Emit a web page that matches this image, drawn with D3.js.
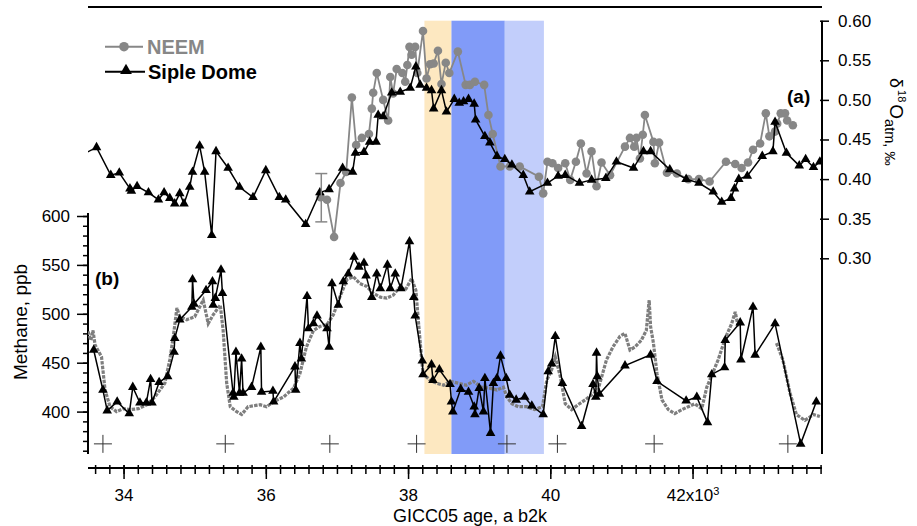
<!DOCTYPE html>
<html>
<head>
<meta charset="utf-8">
<script src="https://cdn.jsdelivr.net/npm/d3@7"></script>
<style>
  body { margin: 0; background: #fff; }
  svg { display: block; font-family: Arial, "Liberation Sans", sans-serif; }
</style>
</head>
<body>
<svg id="chart" width="917" height="526"></svg>
<script>
// ages in ka b2k, d18O in permil, CH4 in ppb
const bandEdges = [38.23, 38.61, 39.36, 39.91];
const tiePointAges = [33.71, 35.43, 36.90, 38.12, 39.39, 40.10, 41.46, 43.34];
const tiePointLevel = 367;
const neemErrorBar = { age: 36.78, lo: 0.346, hi: 0.407 };

const xMajorTicks = [34, 36, 38, 40, 42];
const ch4MajorTicks = [400, 450, 500, 550, 600];
const d18OTicks = [0.30, 0.35, 0.40, 0.45, 0.50, 0.55, 0.60];

const neemD18O = [
  [36.77,0.377],[36.86,0.374],[36.96,0.327],[37.05,0.395],[37.13,0.409],[37.21,0.503],
  [37.27,0.443],[37.35,0.452],[37.45,0.457],[37.49,0.489],[37.51,0.509],[37.56,0.534],
  [37.65,0.500],[37.72,0.474],[37.75,0.529],[37.79,0.508],[37.84,0.539],[37.92,0.534],
  [37.96,0.523],[37.99,0.544],[38.02,0.567],[38.05,0.557],[38.10,0.567],[38.13,0.534],
  [38.21,0.587],[38.26,0.527],[38.31,0.545],[38.36,0.546],[38.42,0.562],[38.47,0.520],
  [38.53,0.547],[38.58,0.534],[38.70,0.561],[38.81,0.519],[38.87,0.519],[38.94,0.523],
  [39.07,0.519],[39.13,0.481],[39.19,0.457],[39.30,0.416],[39.43,0.416],[39.57,0.416],
  [39.84,0.403],[39.90,0.382],[39.96,0.422],[40.03,0.420],[40.11,0.414],[40.21,0.420],
  [40.28,0.399],[40.36,0.422],[40.43,0.445],[40.51,0.407],[40.58,0.435],[40.65,0.391],
  [40.72,0.421],[40.84,0.405],[41.05,0.441],[41.12,0.452],[41.18,0.441],[41.21,0.452],
  [41.26,0.426],[41.30,0.456],[41.33,0.481],[41.45,0.447],[41.47,0.420],[41.53,0.446],
  [41.64,0.408],[41.78,0.407],[41.94,0.400],[42.09,0.400],[42.24,0.397],[42.47,0.422],
  [42.60,0.419],[42.69,0.414],[42.78,0.421],[42.85,0.437],[42.95,0.445],[43.03,0.483],
  [43.08,0.454],[43.16,0.460],[43.19,0.470],[43.24,0.483],[43.30,0.483],[43.33,0.474],
  [43.41,0.468]
];

const sipleD18O = [
  [33.40,0.430],[33.62,0.440],[33.82,0.405],[33.94,0.408],[34.09,0.388],[34.11,0.385],
  [34.19,0.391],[34.35,0.383],[34.49,0.374],[34.57,0.383],[34.65,0.376],[34.72,0.369],
  [34.79,0.382],[34.85,0.369],[34.93,0.390],[34.97,0.409],[35.07,0.442],[35.14,0.409],
  [35.24,0.329],[35.30,0.435],[35.47,0.414],[35.63,0.390],[35.82,0.377],[36.00,0.411],
  [36.19,0.377],[36.28,0.374],[36.56,0.343],[36.76,0.383],[36.89,0.387],[37.08,0.414],
  [37.22,0.409],[37.26,0.433],[37.38,0.434],[37.46,0.447],[37.55,0.447],[37.58,0.481],
  [37.65,0.479],[37.77,0.509],[37.89,0.510],[38.03,0.515],[38.11,0.542],[38.17,0.519],
  [38.26,0.515],[38.33,0.512],[38.36,0.489],[38.47,0.512],[38.54,0.485],[38.65,0.501],
  [38.72,0.496],[38.78,0.498],[38.85,0.501],[38.93,0.495],[38.95,0.475],[39.08,0.454],
  [39.15,0.446],[39.25,0.429],[39.36,0.425],[39.46,0.418],[39.62,0.405],[39.71,0.384],
  [39.96,0.395],[40.11,0.404],[40.21,0.405],[40.41,0.395],[40.58,0.399],[40.78,0.401],
  [40.93,0.422],[41.17,0.414],[41.31,0.435],[41.41,0.435],[41.68,0.412],[41.91,0.400],
  [42.09,0.395],[42.29,0.384],[42.41,0.371],[42.54,0.376],[42.59,0.388],[42.65,0.400],
  [42.77,0.404],[42.98,0.429],[43.13,0.435],[43.16,0.472],[43.32,0.433],[43.50,0.417],
  [43.59,0.425],[43.70,0.415],[43.79,0.422]
];

const neemCh4 = [
  [33.50,482],[33.54,473],[33.57,483],[33.60,468],[33.69,456],[33.74,422],[33.81,405],
  [33.90,400],[34.00,403],[34.09,402],[34.21,403],[34.33,407],[34.44,415],[34.58,429],
  [34.65,453],[34.70,477],[34.75,506],[34.79,497],[34.89,494],[35.00,497],[35.12,514],
  [35.19,490],[35.26,499],[35.36,509],[35.40,483],[35.45,429],[35.50,405],[35.59,400],
  [35.66,397],[35.75,405],[35.92,407],[36.01,405],[36.11,410],[36.25,415],[36.39,424],
  [36.48,439],[36.57,466],[36.67,483],[36.76,487],[36.86,489],[36.95,499],[37.04,517],
  [37.14,535],[37.23,538],[37.32,531],[37.42,528],[37.51,521],[37.61,517],[37.70,516],
  [37.79,519],[37.89,528],[37.96,524],[38.05,536],[38.11,524],[38.14,497],[38.18,463],
  [38.21,439],[38.31,432],[38.40,429],[38.50,427],[38.59,431],[38.71,429],[38.82,427],
  [38.92,431],[39.03,425],[39.15,424],[39.25,422],[39.34,425],[39.39,415],[39.46,408],
  [39.55,405],[39.67,405],[39.78,402],[39.89,405],[39.95,432],[40.02,443],[40.07,456],
  [40.14,436],[40.21,408],[40.30,402],[40.39,407],[40.49,412],[40.58,417],[40.67,422],
  [40.79,453],[40.88,466],[40.98,477],[41.05,480],[41.12,463],[41.19,466],[41.28,473],
  [41.35,483],[41.39,514],[41.41,487],[41.45,470],[41.50,439],[41.57,412],[41.66,402],
  [41.75,398],[41.85,402],[41.94,405],[42.03,408],[42.13,403],[42.20,425],[42.27,437],
  [42.36,453],[42.46,475],[42.55,490],[42.60,502],[42.64,487],
  [42.80,null],
  [43.18,470],[43.27,453],[43.37,419],[43.46,397],[43.58,391],[43.70,397],[43.79,395]
];

const sipleCh4 = [
  [33.58,463],[33.71,422],[33.77,401],[33.91,410],[34.08,398],[34.13,425],[34.23,409],
  [34.32,409],[34.38,433],[34.40,409],[34.50,430],[34.62,436],[34.71,461],[34.72,475],
  [34.79,494],[34.96,507],[34.97,535],[34.99,510],[35.16,524],[35.25,533],[35.26,509],
  [35.29,516],[35.37,545],[35.39,521],[35.54,419],[35.55,415],[35.58,461],[35.63,419],
  [35.66,454],[35.68,419],[35.80,425],[35.93,466],[35.94,420],[36.10,421],[36.11,410],
  [36.41,446],[36.42,422],[36.48,470],[36.50,454],[36.58,518],[36.60,485],[36.67,490],
  [36.72,498],[36.86,485],[36.89,466],[36.93,531],[37.02,509],[37.09,533],[37.16,541],
  [37.24,558],[37.31,548],[37.38,552],[37.41,539],[37.49,517],[37.56,541],[37.61,526],
  [37.71,550],[37.75,526],[37.82,541],[37.90,526],[38.02,574],[38.08,517],[38.10,498],
  [38.20,452],[38.21,438],[38.33,448],[38.35,432],[38.44,443],[38.59,428],[38.61,410],
  [38.63,400],[38.74,423],[38.85,420],[38.93,405],[38.94,397],[39.00,424],[39.06,400],
  [39.08,434],[39.16,378],[39.20,429],[39.25,434],[39.30,457],[39.38,434],[39.43,417],
  [39.52,412],[39.64,415],[39.74,406],[39.90,397],[39.97,441],[40.02,449],[40.07,477],
  [40.17,429],[40.44,385],[40.60,428],[40.64,415],[40.65,460],[40.66,436],[40.69,418],
  [41.05,447],[41.41,458],[41.50,431],[41.91,411],[42.06,415],[42.21,389],[42.27,438],
  [42.45,445],[42.46,473],[42.67,491],[42.68,453],[42.85,507],[42.88,458],[43.16,490],
  [43.52,367],[43.74,410]
];

const NeemColor = '#878787';
const NeemCh4Color = '#7e7e7e';
const BandColors = ['#fde8c1', '#819bf8', '#c2cefb'];
const PlotLeft = 88;
const PlotRight = 822;
const PlotBottom = 454;

const svg = d3.select('#chart');

const x = d3.scaleLinear().domain([33.5, 43.82]).range([PlotLeft, PlotRight]);
const yD = d3.scaleLinear().domain([0.30, 0.60]).range([258.3, 20.7]);
const yM = d3.scaleLinear().domain([400, 600]).range([411.6, 216]);
const ch4Floor = yM.invert(PlotBottom);

svg.append('defs').append('clipPath')
  .attr('id', 'plot-clip')
  .append('rect')
  .attr('x', PlotLeft)
  .attr('y', 0)
  .attr('width', PlotRight - PlotLeft)
  .attr('height', PlotBottom);

// shaded intervals
svg.append('g')
  .selectAll('rect')
  .data(d3.pairs(bandEdges))
  .enter().append('rect')
    .attr('x', d => x(d[0]))
    .attr('width', d => x(d[1]) - x(d[0]))
    .attr('y', yD(0.60))
    .attr('height', yM(ch4Floor) - yD(0.60))
    .attr('fill', (d, i) => BandColors[i]);

// frame lines
svg.append('line')
  .attr('x1', PlotLeft).attr('x2', PlotRight)
  .attr('y1', 7).attr('y2', 7)
  .attr('stroke', '#000').attr('stroke-width', 2);

// bottom (age) axis
const xAxisY = 468;
const minorAges = d3.range(168, 220).map(i => i / 5);
const xMinor = svg.append('g')
  .attr('transform', `translate(0,${xAxisY})`)
  .call(d3.axisBottom(x).tickValues(minorAges).tickSize(6).tickFormat(''));
const xMajor = svg.append('g')
  .attr('transform', `translate(0,${xAxisY})`)
  .call(d3.axisBottom(x).tickValues(xMajorTicks).tickSize(11).tickPadding(10)
    .tickFormat(d3.format('d')));
[xMinor, xMajor].forEach(g => {
  g.select('.domain').remove();
  g.selectAll('.tick line').attr('y1', -3).attr('stroke-width', 1.5);
});
xMajor.selectAll('.tick text')
  .attr('font-size', 17)
  .attr('font-family', null)
  .filter(d => d === 42)
  .text('42x10')
  .append('tspan')
    .attr('dy', '-0.55em')
    .attr('font-size', 11)
    .text('3');
svg.append('line')
  .attr('x1', PlotLeft).attr('x2', PlotRight)
  .attr('y1', xAxisY).attr('y2', xAxisY)
  .attr('stroke', '#000').attr('stroke-width', 2);
svg.append('text')
  .attr('x', 470).attr('y', 522)
  .attr('text-anchor', 'middle')
  .attr('font-size', 18)
  .text('GICC05 age, a b2k');

// left (methane) axis
const ch4Minor = svg.append('g')
  .attr('transform', `translate(${PlotLeft},0)`)
  .call(d3.axisLeft(yM).tickValues(d3.range(360, 601, 10)).tickSize(5).tickFormat(''));
const ch4Major = svg.append('g')
  .attr('transform', `translate(${PlotLeft},0)`)
  .call(d3.axisLeft(yM).tickValues(ch4MajorTicks).tickSize(11).tickPadding(7));
[ch4Minor, ch4Major].forEach(g => {
  g.select('.domain').remove();
  g.selectAll('.tick line').attr('stroke-width', 1.5);
});
ch4Major.selectAll('.tick text').attr('font-size', 17).attr('font-family', null);
svg.append('line')
  .attr('x1', PlotLeft).attr('x2', PlotLeft)
  .attr('y1', 213).attr('y2', PlotBottom)
  .attr('stroke', '#000').attr('stroke-width', 2);
svg.append('text')
  .attr('transform', 'translate(27,322) rotate(-90)')
  .attr('text-anchor', 'middle')
  .attr('font-size', 19)
  .text('Methane, ppb');

// right (d18O) axis
const d18OAxis = svg.append('g')
  .attr('transform', `translate(${PlotRight},0)`)
  .call(d3.axisRight(yD).tickValues(d18OTicks).tickSize(7).tickPadding(9)
    .tickFormat(d3.format('.2f')));
d18OAxis.select('.domain').remove();
d18OAxis.selectAll('.tick line').attr('x1', -2).attr('stroke-width', 1.5);
d18OAxis.selectAll('.tick text').attr('font-size', 17).attr('font-family', null);
svg.append('line')
  .attr('x1', PlotRight).attr('x2', PlotRight)
  .attr('y1', yD(0.60)).attr('y2', PlotBottom)
  .attr('stroke', '#000').attr('stroke-width', 2);

const d18OTitle = svg.append('text')
  .attr('transform', 'translate(890,78) rotate(90)')
  .attr('font-size', 18);
d18OTitle.append('tspan').text('δ');
d18OTitle.append('tspan').attr('font-size', 11).attr('dy', -8).attr('dx', 2).text('18');
d18OTitle.append('tspan').attr('font-size', 19).attr('dy', 8).attr('dx', 2).text('O');
d18OTitle.append('tspan').attr('font-size', 14.5).attr('dy', 5).text('atm, ‰');

// data
const plot = svg.append('g').attr('clip-path', 'url(#plot-clip)');
const lineD = d3.line().x(d => x(d[0])).y(d => yD(d[1]));
const lineM = d3.line()
  .defined(d => d[1] !== null)
  .x(d => x(d[0])).y(d => yM(d[1]));
const triangle = d3.symbol().type(d3.symbolTriangle).size(40);

// (b) methane
plot.append('path')
  .attr('d', lineM(neemCh4))
  .attr('fill', 'none')
  .attr('stroke', NeemCh4Color)
  .attr('stroke-width', 3.2)
  .attr('stroke-dasharray', '3.5 1.2');

plot.append('path')
  .attr('d', lineM(sipleCh4))
  .attr('fill', 'none')
  .attr('stroke', '#000')
  .attr('stroke-width', 1.5);
plot.append('g')
  .selectAll('path')
  .data(sipleCh4)
  .enter().append('path')
    .attr('d', triangle)
    .attr('transform', d => `translate(${x(d[0])},${yM(d[1])})`)
    .attr('fill', '#000');

// (a) d18O
plot.append('path')
  .attr('d', lineD(neemD18O))
  .attr('fill', 'none')
  .attr('stroke', NeemColor)
  .attr('stroke-width', 1.8);
plot.append('g')
  .selectAll('circle')
  .data(neemD18O)
  .enter().append('circle')
    .attr('cx', d => x(d[0]))
    .attr('cy', d => yD(d[1]))
    .attr('r', 4.3)
    .attr('fill', NeemColor);

plot.append('path')
  .attr('d', lineD(sipleD18O))
  .attr('fill', 'none')
  .attr('stroke', '#000')
  .attr('stroke-width', 1.5);
plot.append('g')
  .selectAll('path')
  .data(sipleD18O)
  .enter().append('path')
    .attr('d', triangle)
    .attr('transform', d => `translate(${x(d[0])},${yD(d[1])})`)
    .attr('fill', '#000');

// NEEM error bar
const eb = svg.append('g')
  .attr('stroke', NeemColor)
  .attr('stroke-width', 1.5);
eb.append('line')
  .attr('x1', x(neemErrorBar.age)).attr('x2', x(neemErrorBar.age))
  .attr('y1', yD(neemErrorBar.hi)).attr('y2', yD(neemErrorBar.lo));
[neemErrorBar.hi, neemErrorBar.lo].forEach(v => {
  eb.append('line')
    .attr('x1', x(neemErrorBar.age) - 6).attr('x2', x(neemErrorBar.age) + 6)
    .attr('y1', yD(v)).attr('y2', yD(v));
});

// tie points
svg.append('g')
  .selectAll('path')
  .data(tiePointAges)
  .enter().append('path')
    .attr('d', d => {
      const cx = x(d), cy = yM(tiePointLevel);
      return `M${cx - 9},${cy}H${cx + 9}M${cx},${cy - 9}V${cy + 9}`;
    })
    .attr('stroke', '#333')
    .attr('stroke-width', 1);

// panel labels
svg.append('text')
  .attr('x', 787).attr('y', 103)
  .attr('font-size', 19).attr('font-weight', 'bold')
  .text('(a)');
svg.append('text')
  .attr('x', 95).attr('y', 285)
  .attr('font-size', 19).attr('font-weight', 'bold')
  .text('(b)');

// legend
const legend = svg.append('g');
legend.append('line')
  .attr('x1', 105).attr('x2', 143).attr('y1', 46.7).attr('y2', 46.7)
  .attr('stroke', NeemColor).attr('stroke-width', 2);
legend.append('circle')
  .attr('cx', 124).attr('cy', 46.7).attr('r', 4.8)
  .attr('fill', NeemColor);
legend.append('text')
  .attr('x', 147).attr('y', 53.5)
  .attr('font-size', 20).attr('font-weight', 'bold')
  .attr('fill', NeemColor)
  .text('NEEM');
legend.append('line')
  .attr('x1', 105).attr('x2', 145).attr('y1', 71.7).attr('y2', 71.7)
  .attr('stroke', '#000').attr('stroke-width', 2);
legend.append('path')
  .attr('d', d3.symbol().type(d3.symbolTriangle).size(60))
  .attr('transform', 'translate(126,70.5)')
  .attr('fill', '#000');
legend.append('text')
  .attr('x', 148).attr('y', 78.5)
  .attr('font-size', 20).attr('font-weight', 'bold')
  .text('Siple Dome');
</script>
</body>
</html>
